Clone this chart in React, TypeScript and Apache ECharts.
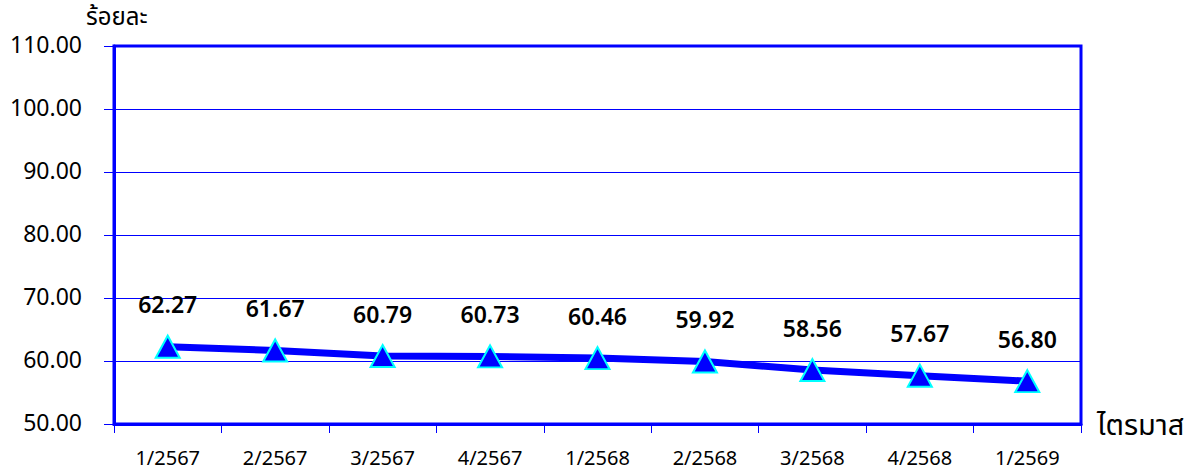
import React, { useEffect, useRef } from "react";
import * as echarts from "echarts";

const categories = ["1/2567", "2/2567", "3/2567", "4/2567", "1/2568", "2/2568", "3/2568", "4/2568", "1/2569"];
const values = [62.27, 61.67, 60.79, 60.73, 60.46, 59.92, 58.56, 57.67, 56.8];
const yTicks = { min: 50, max: 110, interval: 10 };
const yTitle = "ร้อยละ";
const xTitle = "ไตรมาส";

const FONT = "'Noto Sans Thai', 'Noto Sans', Tahoma, sans-serif";
const BLUE = "#0000FF";

export default function App() {
  const ref = useRef<HTMLDivElement>(null);
  useEffect(() => {
    document.body.style.margin = "0";
    const chart = echarts.init(ref.current!, null, { renderer: "svg" });
    chart.setOption({
      animation: false,
      backgroundColor: "#ffffff",
      textStyle: { fontFamily: FONT },
      grid: {
        left: 114,
        right: 115,
        top: 46,
        bottom: 50,
        show: true,
        borderColor: BLUE,
        borderWidth: 3,
        backgroundColor: "transparent",
      },
      graphic: [
        {
          type: "text",
          left: 86,
          top: 6,
          style: { text: yTitle, fontSize: 24, fill: "#000", fontFamily: FONT },
        },
        {
          type: "text",
          left: 1097,
          top: 411,
          style: { text: xTitle, fontSize: 29, fill: "#000", fontFamily: FONT },
        },
      ],
      xAxis: {
        type: "category",
        data: categories,
        boundaryGap: true,
        axisLine: { show: true, lineStyle: { color: BLUE, width: 3 } },
        axisTick: { show: true, alignWithLabel: false, length: 9, lineStyle: { color: BLUE, width: 1 } },
        axisLabel: { fontSize: 20, color: "#000", margin: 25, fontFamily: FONT },
        splitLine: { show: false },
      },
      yAxis: {
        type: "value",
        min: yTicks.min,
        max: yTicks.max,
        interval: yTicks.interval,
        axisLine: { show: true, lineStyle: { color: BLUE, width: 3 } },
        axisTick: { show: true, length: 10, lineStyle: { color: BLUE, width: 1 } },
        axisLabel: {
          fontSize: 23,
          color: "#000",
          margin: 32,
          fontFamily: FONT,
          formatter: (v: number) => v.toFixed(2),
        },
        splitLine: { show: true, lineStyle: { color: BLUE, width: 1 } },
      },
      series: [
        {
          type: "line",
          data: values,
          lineStyle: { color: BLUE, width: 7 },
          itemStyle: { color: BLUE, borderColor: "#00FFFF", borderWidth: 2 },
          symbol: "triangle",
          symbolSize: [24, 22],
          label: {
            show: true,
            position: "top",
            distance: 17,
            fontSize: 23,
            fontWeight: 600,
            color: "#000",
            fontFamily: FONT,
            formatter: (p: any) => p.value.toFixed(2),
          },
        },
      ],
    });
    return () => chart.dispose();
  }, []);
  return <div ref={ref} style={{ width: 1196, height: 474, position: "fixed", left: 0, top: 0 }} />;
}
